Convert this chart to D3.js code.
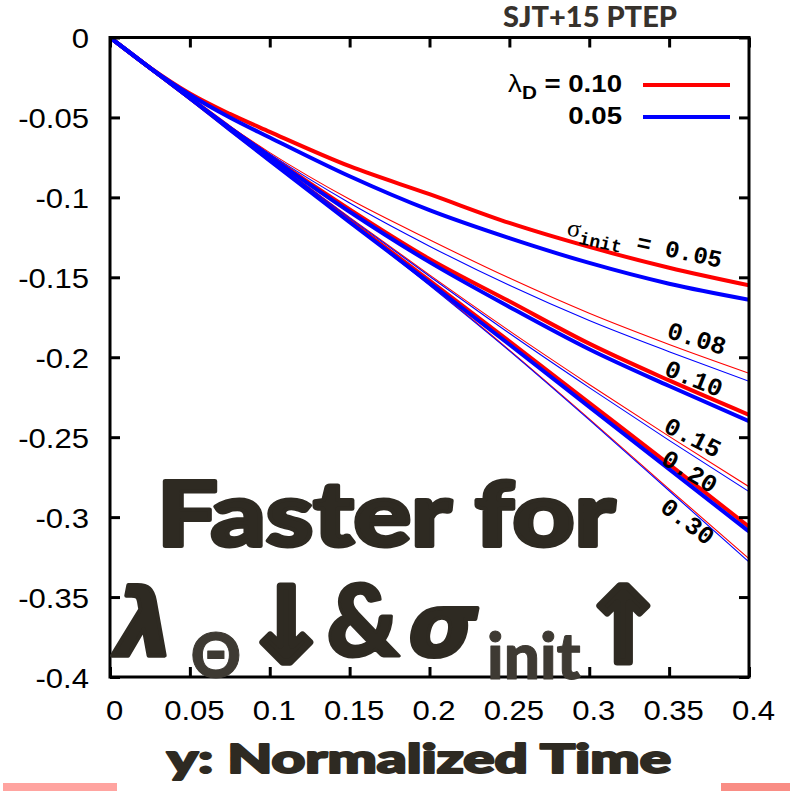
<!DOCTYPE html>
<html lang="en">
<head>
<meta charset="utf-8">
<title>SJT+15 PTEP</title>
<script src="https://d3js.org/d3.v7.min.js"></script>
<style>
  body { margin: 0; background: #fff; }
  .tick text { font-family: "Liberation Sans", Arial, sans-serif; font-size: 27px; fill: #000; }
  .curve { fill: none; }
  .mono { font-family: "Liberation Mono", "DejaVu Sans Mono", monospace; font-weight: bold; }
  .big { font-family: Lato, "Open Sans", sans-serif; font-weight: 900; fill: #2e2a22; stroke: #2e2a22; stroke-linejoin: round; }
</style>
</head>
<body>
<svg width="790" height="791"></svg>
<script>
// sample times along y (normalized time)
var times = [0, 0.025, 0.05, 0.075, 0.1, 0.15, 0.2, 0.25, 0.3, 0.35, 0.4];
var sigmas = ["0.05", "0.08", "0.10", "0.15", "0.20", "0.30"];
var lambdas = ["0.10", "0.05"];

// lambda_D = 0.10 (red)
var red005 = [0, -0.0188, -0.035, -0.0478, -0.059, -0.0805, -0.098, -0.116, -0.131, -0.144, -0.155];
var red008 = [0, -0.019, -0.0376, -0.0555, -0.072, -0.1012, -0.1265, -0.1505, -0.1725, -0.192, -0.210];
var red010 = [0, -0.019, -0.0378, -0.0563, -0.074, -0.1075, -0.1385, -0.165, -0.1915, -0.2145, -0.236];
var red015 = [0, -0.019, -0.038, -0.0568, -0.0755, -0.1125, -0.1485, -0.1835, -0.217, -0.2495, -0.281];
var red020 = [0, -0.019, -0.038, -0.0573, -0.0765, -0.1145, -0.152, -0.190, -0.2285, -0.267, -0.306];
var red030 = [0, -0.019, -0.038, -0.0573, -0.0765, -0.115, -0.1545, -0.1955, -0.2385, -0.2825, -0.326];

// lambda_D = 0.05 (blue)
var blue005 = [0, -0.019, -0.0358, -0.050, -0.0625, -0.0868, -0.108, -0.1255, -0.141, -0.154, -0.164];
var blue008 = [0, -0.019, -0.0378, -0.0558, -0.0728, -0.1035, -0.1305, -0.155, -0.177, -0.1965, -0.215];
var blue010 = [0, -0.019, -0.038, -0.0565, -0.0745, -0.109, -0.1405, -0.1685, -0.195, -0.218, -0.240];
var blue015 = [0, -0.019, -0.038, -0.0569, -0.0757, -0.113, -0.1493, -0.185, -0.219, -0.252, -0.284];
var blue020 = [0, -0.019, -0.038, -0.0576, -0.077, -0.1155, -0.1535, -0.192, -0.231, -0.270, -0.309];
var blue030 = [0, -0.019, -0.038, -0.0573, -0.0765, -0.1152, -0.155, -0.196, -0.2392, -0.2835, -0.328];

var xTicks = [0, 0.05, 0.1, 0.15, 0.2, 0.25, 0.3, 0.35, 0.4];
var xTickLabels = ["0", "0.05", "0.1", "0.15", "0.2", "0.25", "0.3", "0.35", "0.4"];
var yTicks = [0, -0.05, -0.1, -0.15, -0.2, -0.25, -0.3, -0.35, -0.4];
var yTickLabels = ["0", "-0.05", "-0.1", "-0.15", "-0.2", "-0.25", "-0.3", "-0.35", "-0.4"];

var svg = d3.select("svg"),
    pL = 110, pR = 749, pT = 37.5, pB = 677;

var x = d3.scaleLinear().domain([0, 0.4]).range([pL, pR]),
    y = d3.scaleLinear().domain([-0.4, 0]).range([pB, pT]);

var line = d3.line()
    .curve(d3.curveMonotoneX)
    .x(function(d, i) { return x(times[i]); })
    .y(function(d) { return y(d); });

svg.append("clipPath").attr("id", "plot")
  .append("rect").attr("x", pL).attr("y", pT).attr("width", pR - pL).attr("height", pB - pT);

var series = [
  {lam: "0.10", sig: "0.05", v: red005}, {lam: "0.10", sig: "0.08", v: red008},
  {lam: "0.10", sig: "0.10", v: red010}, {lam: "0.10", sig: "0.15", v: red015},
  {lam: "0.10", sig: "0.20", v: red020}, {lam: "0.10", sig: "0.30", v: red030},
  {lam: "0.05", sig: "0.05", v: blue005}, {lam: "0.05", sig: "0.08", v: blue008},
  {lam: "0.05", sig: "0.10", v: blue010}, {lam: "0.05", sig: "0.15", v: blue015},
  {lam: "0.05", sig: "0.20", v: blue020}, {lam: "0.05", sig: "0.30", v: blue030}
];
var color = d3.scaleOrdinal().domain(lambdas).range(["#ff0000", "#0000ff"]);
var thick = ["0.05", "0.10", "0.20"];

svg.append("g").attr("clip-path", "url(#plot)")
  .selectAll("path").data(series).enter().append("path")
    .attr("class", "curve")
    .attr("d", function(d) { return line(d.v); })
    .attr("stroke", function(d) { return color(d.lam); })
    .attr("stroke-width", function(d) { return thick.indexOf(d.sig) >= 0 ? 4 : 1.1; });

// axes, gnuplot style ticks pointing inward on all sides
var gx = svg.append("g").attr("transform", "translate(0," + pB + ")")
    .call(d3.axisBottom(x).tickValues(xTicks).tickFormat(function(d, i) { return xTickLabels[i]; })
      .tickSizeInner(-10).tickSizeOuter(0));
gx.selectAll("text").attr("y", 0).attr("dy", 0).attr("transform", "translate(4,43) scale(1.15,1)");

var gy = svg.append("g").attr("transform", "translate(" + pL + ",0)")
    .call(d3.axisLeft(y).tickValues(yTicks).tickFormat(function(d, i) { return yTickLabels[i]; })
      .tickSizeInner(-10).tickSizeOuter(0));
gy.selectAll("text").attr("x", 0).attr("dy", "0.35em").attr("transform", "translate(-21,1) scale(1.15,1)");

svg.append("g").attr("transform", "translate(0," + pT + ")")
    .call(d3.axisTop(x).tickValues(xTicks).tickFormat("").tickSizeInner(-10).tickSizeOuter(0));
svg.append("g").attr("transform", "translate(" + pR + ",0)")
    .call(d3.axisRight(y).tickValues(yTicks).tickFormat("").tickSizeInner(-10).tickSizeOuter(0));

svg.selectAll(".domain").remove();
svg.selectAll(".tick line").attr("stroke", "#000").attr("stroke-width", 3);

svg.append("rect").attr("x", pL).attr("y", pT).attr("width", pR - pL).attr("height", pB - pT)
  .attr("fill", "none").attr("stroke", "#000").attr("stroke-width", 3);

// title
svg.append("text").attr("x", 503).attr("y", 27)
  .attr("textLength", 174).attr("lengthAdjust", "spacingAndGlyphs")
  .style("font-family", "Lato, 'Open Sans', sans-serif").style("font-weight", 900)
  .style("font-size", "28px").style("fill", "#37322c")
  .text("SJT+15 PTEP");

// legend
var leg = svg.append("g");
lambdas.forEach(function(l, i) {
  var yy = 85 + i * 32;
  var t = leg.append("text")
    .attr("transform", "translate(622," + (yy + 7) + ") scale(1.15,1)")
    .attr("text-anchor", "end")
    .style("font-family", "'Liberation Sans', Arial, sans-serif").style("font-weight", "bold").style("font-size", "24px");
  if (i === 0) {
    t.append("tspan").style("font-weight", "normal").text("λ");
    t.append("tspan").attr("dy", 7).style("font-size", "18px").text("D");
    t.append("tspan").attr("dy", -7).text(" = " + l);
  } else {
    t.text(l);
  }
  leg.append("line").attr("x1", 643).attr("x2", 730).attr("y1", yy).attr("y2", yy)
    .attr("stroke", color(l)).attr("stroke-width", 4);
});

// sigma_init labels along the curves
var s0 = svg.append("text").attr("class", "mono")
  .attr("transform", "translate(566,235) rotate(12)");
s0.append("tspan").style("font-family", "'Liberation Serif', serif").style("font-weight", "normal")
  .style("font-size", "25px").text("σ");
s0.append("tspan").attr("dy", 6).style("font-size", "18px").text("init");
s0.append("tspan").attr("dy", -6).style("font-size", "24px").text(" = " + sigmas[0]);

var labelPos = [null, [697, 338, 17], [694, 378, 22], [693, 437, 27], [690, 471, 31], [688, 521, 37]];
sigmas.slice(1).forEach(function(s, i) {
  var p = labelPos[i + 1];
  svg.append("text").attr("class", "mono")
    .attr("transform", "translate(" + p[0] + "," + p[1] + ") rotate(" + p[2] + ")")
    .attr("text-anchor", "middle").attr("dy", "0.35em")
    .style("font-size", "25px")
    .text(s);
});

// big annotation
svg.append("text").attr("class", "big").attr("x", 157).attr("y", 546)
  .attr("textLength", 458).attr("lengthAdjust", "spacingAndGlyphs")
  .style("font-size", "90px").style("stroke-width", 4)
  .text("Faster for");

function glyph(str, cx, base, size, opts) {
  opts = opts || {};
  return svg.append("text").attr("class", "big")
    .attr("x", cx).attr("y", base).attr("text-anchor", opts.anchor || "middle")
    .style("font-family", opts.family || "Lato, sans-serif")
    .style("font-size", size + "px").style("stroke-width", opts.sw || 3)
    .style("font-style", opts.italic ? "italic" : "normal")
    .style("fill", opts.fill || "#2e2a22").style("stroke", opts.fill || "#2e2a22")
    .text(str);
}
glyph("λ", 145, 656, 92, {family: "'DejaVu Sans', sans-serif", italic: true, sw: 4});
glyph("Θ", 216, 678, 62, {fill: "#3e3a33", sw: 1});
glyph("↓", 286, 662, 104, {family: "'DejaVu Sans', sans-serif", sw: 7});
glyph("&", 363, 656, 100, {sw: 3});
glyph("σ", 443, 656, 88, {family: "'DejaVu Sans', sans-serif", italic: true, sw: 4});
glyph("init", 487, 679, 64, {anchor: "start", fill: "#3e3a33", sw: 1});
glyph("↑", 623, 662, 104, {family: "'DejaVu Sans', sans-serif", sw: 7});

// x axis title
svg.append("text").attr("class", "big").attr("x", 167).attr("y", 773)
  .attr("textLength", 504).attr("lengthAdjust", "spacingAndGlyphs")
  .style("font-size", "39px").style("stroke-width", 2)
  .text("y: Normalized Time");

// pink bars at the bottom edge
svg.append("rect").attr("x", 3).attr("y", 783).attr("width", 114).attr("height", 8).attr("fill", "#ffa4a0");
svg.append("rect").attr("x", 721).attr("y", 783).attr("width", 69).attr("height", 8).attr("fill", "#f98d85");
</script>
</body>
</html>
